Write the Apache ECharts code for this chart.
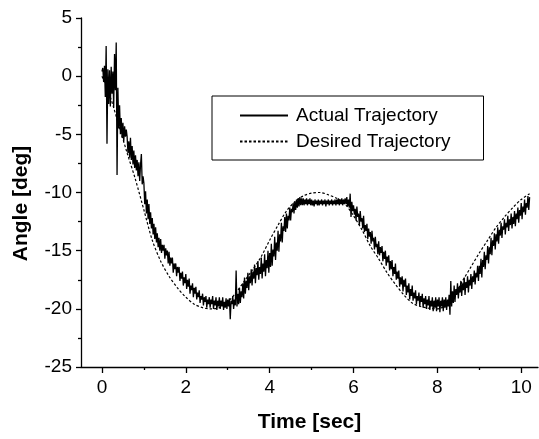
<!DOCTYPE html>
<html>
<head>
<meta charset="utf-8">
<script src="https://cdn.jsdelivr.net/npm/echarts@6/dist/echarts.min.js"></script>
<style>
html,body{margin:0;padding:0;background:#fff;}
#chart{width:539px;height:439px;}
</style>
</head>
<body>
<div id="chart"></div>
<script>
// ---- data ----
const seriesNames = ['Actual Trajectory', 'Desired Trajectory'];
const xTickValues = [0, 2, 4, 6, 8, 10];
const xMinorTickValues = [1, 3, 5, 7, 9];

const desiredTime = [0, 0.2, 0.4, 0.6, 0.8, 1.0, 1.2, 1.4, 1.6, 1.8, 2.0, 2.2, 2.4, 2.6, 2.8, 3.0, 3.2, 3.4, 3.6, 3.8,
  4.0, 4.2, 4.4, 4.6, 4.8, 5.0, 5.2, 5.4, 5.6, 5.8, 6.0, 6.2, 6.4, 6.6, 6.8, 7.0, 7.2, 7.4, 7.6, 7.8,
  8.0, 8.2, 8.4, 8.6, 8.8, 9.0, 9.2, 9.4, 9.6, 9.8, 10.0, 10.2];
const desiredAngle = [0.0, -1.8, -4.2, -6.6, -8.9, -11.5, -14.1, -15.9, -17.2, -18.2, -19.0, -19.6, -19.9, -20.0, -19.9, -19.4, -18.6, -17.6, -16.6, -15.5,
  -14.1, -12.8, -11.6, -10.8, -10.3, -10.05, -10.0, -10.2, -10.5, -11.0, -12.0, -13.2, -14.6, -15.7, -16.9, -17.9, -18.8, -19.5, -19.8, -19.95,
  -20.0, -19.7, -18.9, -17.6, -16.4, -15.2, -14.1, -13.0, -12.1, -11.3, -10.6, -10.1];

// actual trajectory sampled every 0.02 s starting at t = 0 (one row = 0.2 s)
const actualStartTime = 0;
const actualSampleStep = 0.02;
const actualAngle = [
  0.4, 0.7, -0.5, 0.9, -1.8, 2.6, -5.8, 0.6, -2.4, 0.5,
  -2.6, 0.8, -1.5, 0.4, -2.7, 1.9, -1.2, 2.9, -8.5, -1.0,
  -4.5, -2.5, -5.0, -3.6, -5.3, -4.0, -5.6, -4.3, -5.2, -4.6,
  -5.2, -6.6, -5.6, -7.0, -5.3, -7.2, -6.0, -7.6, -6.4, -7.9,
  -6.8, -8.1, -7.2, -8.6, -7.4, -9.0, -7.6, -6.7, -9.3, -8.6,
  -9.2, -11.0, -9.9, -11.8, -10.6, -12.3, -11.0, -12.7, -11.7, -13.1,
  -12.2, -13.6, -12.7, -14.0, -13.0, -14.3, -13.5, -14.7, -13.9, -15.0,
  -14.0, -15.2, -14.5, -15.0, -14.5, -15.7, -14.8, -15.4, -15.0, -16.1,
  -15.1, -16.3, -15.6, -16.1, -15.6, -16.9, -16.1, -16.6, -16.1, -17.2,
  -16.4, -16.9, -16.4, -17.6, -16.9, -17.4, -16.8, -18.0, -17.3, -17.8,
  -17.0, -18.3, -17.5, -18.1, -17.4, -18.7, -18.0, -18.4, -17.8, -19.0,
  -18.2, -18.7, -18.1, -19.2, -18.6, -19.0, -18.4, -19.5, -18.9, -19.2,
  -18.7, -19.7, -19.0, -19.4, -18.9, -19.9, -19.2, -19.6, -19.0, -19.9,
  -19.2, -19.6, -18.9, -20.0, -19.3, -19.7, -19.0, -20.1, -19.3, -19.8,
  -19.0, -20.0, -19.3, -19.8, -19.0, -20.1, -19.4, -19.9, -19.1, -20.0,
  -19.2, -19.8, -19.1, -20.9, -19.3, -19.6, -18.9, -20.0, -19.2, -19.7,
  -16.7, -19.8, -18.7, -19.6, -18.2, -19.5, -18.5, -19.0, -17.8, -19.1,
  -17.3, -18.7, -17.6, -18.2, -16.9, -18.4, -17.2, -17.8, -16.6, -18.0,
  -16.8, -17.4, -16.2, -17.8, -16.5, -17.1, -15.9, -17.5, -16.4, -17.0,
  -15.6, -17.4, -16.1, -16.8, -15.3, -17.2, -15.8, -16.5, -15.0, -16.9,
  -15.2, -16.4, -14.4, -16.3, -14.9, -15.5, -13.8, -15.8, -14.3, -15.0,
  -13.3, -15.1, -13.6, -14.2, -12.6, -14.3, -12.9, -13.3, -12.1, -13.4,
  -11.8, -13.1, -12.0, -12.4, -11.3, -12.4, -11.4, -11.7, -10.9, -11.8,
  -10.8, -11.5, -10.6, -11.3, -10.5, -11.2, -10.4, -11.1, -10.5, -11.1,
  -10.5, -11.1, -10.6, -11.0, -10.5, -11.1, -10.6, -11.0, -10.5, -11.1,
  -10.6, -11.1, -10.7, -11.2, -10.6, -11.0, -10.7, -11.1, -10.6, -11.1,
  -10.7, -11.0, -10.6, -11.1, -10.7, -11.0, -10.6, -11.2, -10.7, -11.0,
  -10.6, -11.1, -10.7, -11.0, -10.6, -11.1, -10.7, -11.0, -10.6, -11.1,
  -10.6, -11.0, -10.5, -11.1, -10.6, -11.0, -10.5, -11.1, -10.6, -11.0,
  -10.5, -11.0, -10.4, -11.2, -10.6, -11.3, -10.1, -12.1, -10.8, -11.6,
  -11.1, -11.9, -11.4, -12.4, -11.2, -12.1, -11.8, -12.8, -11.6, -12.5,
  -12.2, -13.1, -12.0, -13.4, -12.8, -13.3, -12.7, -14.0, -13.1, -13.8,
  -13.4, -14.4, -13.3, -14.2, -13.9, -14.9, -13.8, -14.7, -14.4, -15.3,
  -14.2, -15.4, -14.7, -15.2, -14.6, -15.9, -15.1, -15.7, -15.0, -16.3,
  -15.5, -16.0, -15.4, -16.7, -15.9, -16.6, -15.8, -17.2, -16.4, -17.0,
  -16.1, -17.5, -16.8, -17.4, -16.7, -18.1, -17.3, -17.9, -17.2, -18.5,
  -17.5, -18.1, -17.4, -18.8, -18.0, -18.6, -17.8, -19.2, -18.3, -18.9,
  -18.0, -19.3, -18.6, -19.1, -18.4, -19.6, -18.9, -19.3, -18.6, -19.8,
  -18.9, -19.4, -18.7, -19.9, -19.1, -19.6, -18.9, -20.0, -19.2, -19.7,
  -18.9, -20.1, -19.3, -19.8, -19.0, -20.2, -19.3, -19.9, -19.0, -20.2,
  -19.2, -19.8, -19.0, -20.3, -19.3, -19.8, -19.0, -20.2, -19.2, -19.9,
  -19.0, -20.1, -19.2, -19.8, -18.8, -20.5, -17.6, -19.8, -18.5, -19.5,
  -18.0, -19.4, -18.3, -18.8, -17.8, -19.1, -18.1, -18.6, -17.6, -18.9,
  -17.8, -18.4, -17.3, -18.8, -17.7, -18.2, -17.2, -18.6, -17.5, -18.0,
  -17.0, -18.3, -17.2, -17.7, -16.7, -17.9, -16.9, -17.3, -16.3, -17.6,
  -16.3, -17.0, -15.7, -17.3, -15.8, -16.4, -15.1, -16.6, -15.4, -15.8,
  -14.6, -16.1, -14.7, -15.3, -13.9, -15.4, -14.1, -14.6, -13.5, -14.9,
  -13.6, -14.2, -13.0, -14.4, -13.2, -13.7, -12.6, -13.9, -12.9, -13.2,
  -12.3, -13.6, -12.6, -13.0, -12.0, -13.3, -12.3, -12.8, -11.8, -13.1,
  -12.1, -12.7, -11.6, -12.9, -11.8, -12.3, -11.3, -12.6, -11.5, -12.0,
  -10.9, -12.3, -11.2, -11.7, -10.6, -11.9, -10.9, -11.3, -10.3, -11.5,
  -10.4
];

// ---- build ----
const desiredData = desiredTime.map((t, i) => [t, desiredAngle[i]]);
const actualData = actualAngle.map((v, i) => [+(actualStartTime + i * actualSampleStep).toFixed(2), v]);

const FONT = "'Liberation Sans', Arial, sans-serif";
const chart = echarts.init(document.getElementById('chart'), null, {renderer: 'canvas'});

chart.setOption({
  animation: false,
  backgroundColor: '#ffffff',
  grid: {left: 81, right: 1, top: 18, bottom: 72, containLabel: false},
  legend: {
    orient: 'vertical',
    left: 212, top: 96,
    padding: [10, 33, 9, 27],
    itemWidth: 48, itemHeight: 14, itemGap: 7,
    borderColor: '#000', borderWidth: 1,
    itemStyle: {opacity: 0},
    textStyle: {fontFamily: FONT, fontSize: 19, color: '#000', padding: [0, 0, 0, 3]},
    data: seriesNames
  },
  xAxis: [{
    type: 'value', min: -0.5, max: 10.4, position: 'bottom',
    name: 'Time [sec]', nameLocation: 'middle', nameGap: 45,
    nameTextStyle: {fontFamily: FONT, fontSize: 21, fontWeight: 'bold', color: '#000'},
    axisLine: {show: true, onZero: false, lineStyle: {color: '#000', width: 1.3}},
    axisTick: {show: true, inside: false, length: 6, customValues: xTickValues, lineStyle: {color: '#000', width: 1.3}},
    axisLabel: {show: true, customValues: xTickValues, margin: 11, fontFamily: FONT, fontSize: 19, color: '#000'},
    splitLine: {show: false}
  }, {
    type: 'value', min: -0.5, max: 10.4, position: 'bottom',
    axisLine: {show: false, onZero: false},
    axisTick: {show: true, inside: false, length: 3, customValues: xMinorTickValues, lineStyle: {color: '#000', width: 1.3}},
    axisLabel: {show: false},
    splitLine: {show: false}
  }],
  yAxis: {
    type: 'value', min: -25, max: 5, interval: 5, position: 'left',
    name: 'Angle [deg]', nameLocation: 'middle', nameGap: 49,
    nameTextStyle: {fontFamily: FONT, fontSize: 21, fontWeight: 'bold', color: '#000', padding: [0, 22, 0, 0]},
    axisLine: {show: true, onZero: false, lineStyle: {color: '#000', width: 1.3}},
    axisTick: {show: true, inside: false, length: 5, lineStyle: {color: '#000', width: 1.3}},
    minorTick: {show: true, splitNumber: 2, length: 3, lineStyle: {color: '#000', width: 1.3}},
    axisLabel: {show: true, margin: 9, fontFamily: FONT, fontSize: 19, color: '#000'},
    splitLine: {show: false}
  },
  series: [{
    name: seriesNames[0], type: 'line', xAxisIndex: 0, data: actualData,
    symbol: 'none', lineStyle: {color: '#000', width: 1.3}, itemStyle: {color: '#000'}, z: 3
  }, {
    name: seriesNames[1], type: 'line', xAxisIndex: 0, data: desiredData, smooth: 0.3,
    symbol: 'none', lineStyle: {color: '#000', width: 1.2, type: [2.5, 2]}, itemStyle: {color: '#000'}, z: 2
  }]
});
</script>
</body>
</html>
